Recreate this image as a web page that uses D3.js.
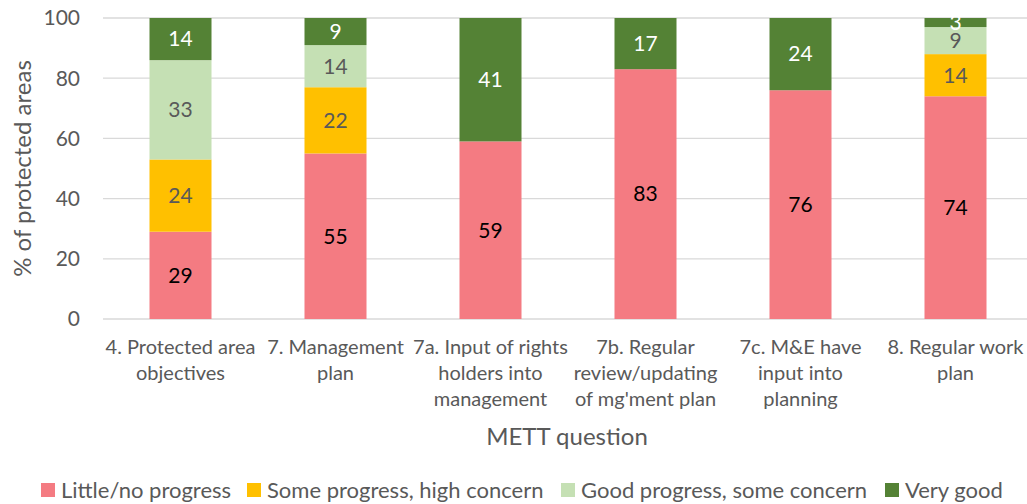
<!DOCTYPE html>
<html>
<head>
<meta charset="utf-8">
<script src="https://cdn.jsdelivr.net/npm/d3@7"></script>
<style>
  body { margin: 0; background: #fff; }
  svg { display: block; font-family: Lato, "Open Sans", sans-serif; }
</style>
</head>
<body>
<div class="chart"></div>
<script>
// Chart data
var categories = [
    ["4. Protected area", "objectives"],
    ["7. Management", "plan"],
    ["7a. Input of rights", "holders into", "management"],
    ["7b. Regular", "review/updating", "of mg'ment plan"],
    ["7c. M&E have", "input into", "planning"],
    ["8. Regular work", "plan"]
];
var seriesNames = ["Little/no progress", "Some progress, high concern", "Good progress, some concern", "Very good"];
var littleNo  = [29, 55, 59, 83, 76, 74];
var someHigh  = [24, 22, 0, 0, 0, 14];
var goodSome  = [33, 14, 0, 0, 0, 9];
var veryGood  = [14, 9, 41, 17, 24, 3];
var yTicks = [0, 20, 40, 60, 80, 100];

var colors = ["#F47B82", "#FFC000", "#C5E0B4", "#548235"];
var labelColors = ["#000000", "#595959", "#595959", "#ffffff"];

var width = 1027, height = 504;
var margin = { top: 18, bottom: 185, left: 103, right: -6 };

var svg = d3.select('.chart').append('svg')
    .attr('width', width)
    .attr('height', height);

var rows = categories.map(function(c, i) {
    return { key: i, v0: littleNo[i], v1: someHigh[i], v2: goodSome[i], v3: veryGood[i] };
});
var stack = d3.stack().keys(["v0", "v1", "v2", "v3"]);
var layers = stack(rows);

var x = d3.scaleBand()
    .domain(d3.range(categories.length))
    .range([margin.left, width - margin.right])
    .paddingInner(0.6)
    .paddingOuter(0.3);

var y = d3.scaleLinear()
    .domain([0, 100])
    .range([height - margin.bottom, margin.top]);

// gridlines
svg.append('g')
    .selectAll('line')
    .data(yTicks)
    .enter().append('line')
    .attr('x1', margin.left)
    .attr('x2', width - margin.right)
    .attr('y1', d => y(d))
    .attr('y2', d => y(d))
    .attr('stroke', '#D9D9D9')
    .attr('stroke-width', 1.3);

// y tick labels
svg.append('g')
    .selectAll('text')
    .data(yTicks)
    .enter().append('text')
    .attr('x', 80)
    .attr('y', d => y(d))
    .attr('dy', '0.35em')
    .attr('text-anchor', 'end')
    .attr('fill', '#595959')
    .style('font-size', '21px')
    .text(d => d);

// y axis title
svg.append('text')
    .attr('transform', 'translate(31,' + y(50) + ') rotate(-90)')
    .attr('text-anchor', 'middle')
    .attr('fill', '#595959')
    .style('font-size', '24px')
    .text('% of protected areas');

// bars
var layerG = svg.append('g')
    .selectAll('g')
    .data(layers)
    .enter().append('g')
    .attr('fill', (d, i) => colors[i]);

layerG.selectAll('rect')
    .data(d => d)
    .enter().append('rect')
    .attr('x', (d, i) => x(i))
    .attr('width', x.bandwidth())
    .attr('y', d => y(d[1]))
    .attr('height', d => y(d[0]) - y(d[1]));

// value labels
svg.append('g')
    .selectAll('g')
    .data(layers)
    .enter().append('g')
    .attr('fill', (d, i) => labelColors[i])
    .selectAll('text')
    .data(d => d.map((s, i) => ({ s: s, i: i })).filter(o => o.s[1] - o.s[0] > 0))
    .enter().append('text')
    .attr('x', o => x(o.i) + x.bandwidth() / 2)
    .attr('y', o => y((o.s[0] + o.s[1]) / 2))
    .attr('dy', '0.35em')
    .attr('text-anchor', 'middle')
    .style('font-size', '21px')
    .text(o => o.s[1] - o.s[0]);

// category labels
svg.append('g')
    .selectAll('text')
    .data(categories)
    .enter().append('text')
    .attr('text-anchor', 'middle')
    .attr('fill', '#595959')
    .style('font-size', '20px')
    .each(function(lines, i) {
        d3.select(this).selectAll('tspan')
            .data(lines)
            .enter().append('tspan')
            .attr('x', x(i) + x.bandwidth() / 2)
            .attr('y', (d, j) => 354 + j * 26)
            .text(d => d);
    });

// x axis title
svg.append('text')
    .attr('x', 567)
    .attr('y', 445)
    .attr('text-anchor', 'middle')
    .attr('fill', '#595959')
    .style('font-size', '24px')
    .text('METT question');

// legend
var legendX = [41, 247, 561, 885];
var legend = svg.append('g')
    .selectAll('g')
    .data(seriesNames)
    .enter().append('g')
    .attr('transform', (d, i) => 'translate(' + legendX[i] + ',483)');

legend.append('rect')
    .attr('width', 14)
    .attr('height', 14)
    .attr('fill', (d, i) => colors[i]);

legend.append('text')
    .attr('x', 20)
    .attr('y', 7)
    .attr('dy', '0.35em')
    .attr('fill', '#595959')
    .style('font-size', '22px')
    .text(d => d);
</script>
</body>
</html>
